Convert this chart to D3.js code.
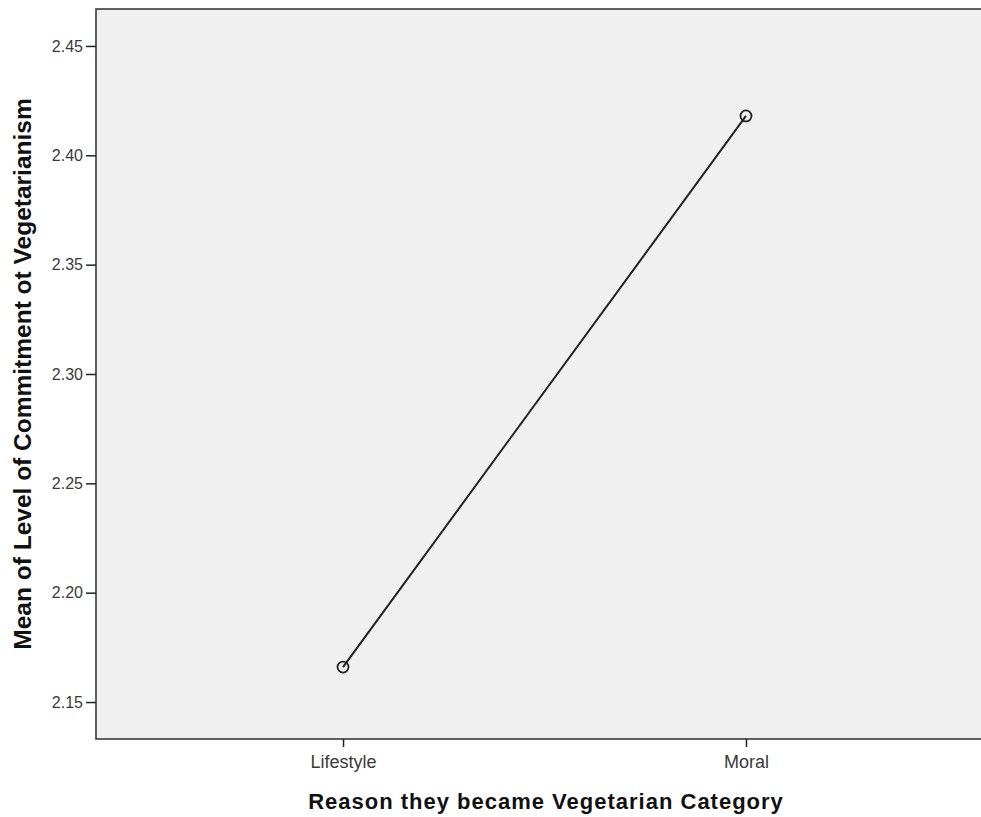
<!DOCTYPE html>
<html><head><meta charset="utf-8">
<script src="https://cdn.jsdelivr.net/npm/d3@7"></script>
<style>body{margin:0;background:#fff}</style>
</head><body>
<svg id="c" width="981" height="817"></svg>
<script>
const categories = ["Lifestyle", "Moral"];
const means = [2.166, 2.418];
const yTicks = [2.15, 2.20, 2.25, 2.30, 2.35, 2.40, 2.45];
const xTitle = "Reason they became Vegetarian Category";
const yTitle = "Mean of Level of Commitment ot Vegetarianism";

const svg = d3.select("#c");
const L = 96, T = 9, R = 993, B = 739;
const x = d3.scalePoint().domain(categories).range([L, R]).padding(0.613);
const y = d3.scaleLinear().domain([2.1331, 2.4669]).range([B, T]);
const FONT = "Arial, 'Liberation Sans', sans-serif";

svg.append("rect").attr("x", L).attr("y", T).attr("width", R - L).attr("height", B - T)
  .attr("fill", "#f0f0f0").attr("stroke", "#3a3a3a").attr("stroke-width", 1.6);

const ya = svg.append("g").attr("transform", `translate(${L},0)`)
  .call(d3.axisLeft(y).tickValues(yTicks).tickFormat(d3.format(".2f")).tickSize(10).tickPadding(3));
ya.select(".domain").remove();
ya.selectAll("line").attr("stroke", "#222").attr("stroke-width", 1.5);
ya.selectAll("text").attr("font-family", FONT).attr("font-size", 16).attr("fill", "#3a3a3a");

const xa = svg.append("g").attr("transform", `translate(0,${B})`)
  .call(d3.axisBottom(x).tickSize(8).tickPadding(8));
xa.select(".domain").remove();
xa.selectAll("line").attr("stroke", "#222").attr("stroke-width", 1.5);
xa.selectAll("text").attr("font-family", FONT).attr("font-size", 18).attr("fill", "#3a3a3a");

const pts = categories.map((c, i) => ({c, v: means[i]}));
svg.append("path").datum(pts)
  .attr("d", d3.line().x(d => x(d.c)).y(d => y(d.v)))
  .attr("fill", "none").attr("stroke", "#222").attr("stroke-width", 2);
svg.selectAll("circle.pt").data(pts).enter().append("circle")
  .attr("cx", d => x(d.c)).attr("cy", d => y(d.v)).attr("r", 5.5)
  .attr("fill", "none").attr("stroke", "#222").attr("stroke-width", 1.8);

svg.append("text").attr("x", 546).attr("y", 809).attr("text-anchor", "middle")
  .attr("font-family", FONT).attr("font-weight", "bold").attr("font-size", 22)
  .attr("letter-spacing", 1).attr("fill", "#111").text(xTitle);
svg.append("text").attr("transform", "translate(31,374) rotate(-90)").attr("text-anchor", "middle")
  .attr("font-family", FONT).attr("font-weight", "bold").attr("font-size", 24.5)
  .attr("fill", "#111").text(yTitle);
</script>
</body></html>
